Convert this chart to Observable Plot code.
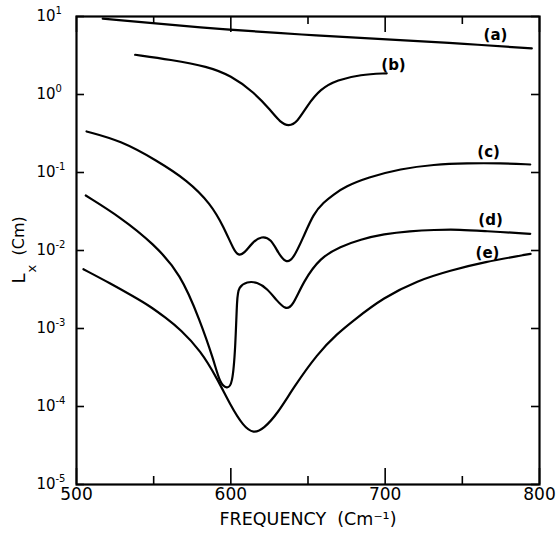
<!DOCTYPE html>
<html><head><meta charset="utf-8">
<script src="https://cdn.jsdelivr.net/npm/d3@7"></script>
<script src="https://cdn.jsdelivr.net/npm/@observablehq/plot@0.6"></script>
<style>
body{margin:0;background:#fff}
g[aria-label="xticklabels"] text{letter-spacing:1.5px}
</style>
</head><body><div id="chart"></div>
<script>
// Series (a)-(e): frequency (cm^-1) and L_x (cm)
const aFreq = [517, 580, 645, 716, 749, 795];
const aL    = [9.4, 7.2, 5.85, 4.9, 4.5, 3.9];
const bFreq = [538, 561, 585, 600, 615, 626, 632, 637.5, 643, 649.5, 658, 669, 684, 701];
const bL    = [3.23, 2.79, 2.29, 1.75, 1.07, 0.62, 0.44, 0.39, 0.44, 0.72, 1.18, 1.54, 1.80, 1.87];
const cFreq = [506.5, 528.5, 552, 572, 587, 595.5, 602, 605, 608.5, 614, 620, 626, 631, 635.5, 640, 647, 653.6, 660, 666.5, 674.3, 688.6, 710, 731.5, 753, 775, 794];
const cL    = [0.336, 0.257, 0.1425, 0.0789, 0.0397, 0.0199, 0.0100, 0.00863, 0.00907, 0.01277, 0.01535, 0.01413, 0.00907, 0.00702, 0.00745, 0.01483, 0.0298, 0.0412, 0.0522, 0.0662, 0.0863, 0.1115, 0.1267, 0.1316, 0.1316, 0.1267];
const dFreq = [506, 528.5, 550, 567.5, 580, 589, 593, 597.5, 601, 603, 604, 605, 610.5, 617, 623.5, 630, 635.5, 640, 647, 658, 671, 684, 699, 716.4, 731.3, 748.8, 763.7, 794];
const dL    = [0.0507, 0.0267, 0.0122, 0.00502, 0.00127, 0.000389, 0.000195, 0.000169, 0.000186, 0.000575, 0.00252, 0.00338, 0.00401, 0.00393, 0.00326, 0.00225, 0.00175, 0.00191, 0.00401, 0.00813, 0.01125, 0.01384, 0.01629, 0.01778, 0.0184, 0.01858, 0.01778, 0.01637];
const eFreq = [504.5, 522, 537, 548, 557.6, 567.4, 580.3, 591.2, 599.8, 608.2, 614.7, 621.2, 630.3, 640.6, 656.2, 669.1, 679.5, 698.9, 721, 742.3, 763.7, 794.2];
const eL    = [0.00575, 0.00378, 0.00257, 0.00191, 0.00138, 0.000971, 0.000522, 0.000228, 0.000103, 0.0000555, 0.0000451, 0.0000515, 0.0000813, 0.000175, 0.000478, 0.000863, 0.00127, 0.00249, 0.00412, 0.00554, 0.00708, 0.00907];

// Curve labels
const labelText = ["(a)", "(b)", "(c)", "(d)", "(e)"];
const labelFreq = [771.5, 705.4, 767, 768.3, 766.3];
const labelL    = [5.7, 2.36, 0.18, 0.0243, 0.00917];
const labelAnchor = ["middle", "start", "middle", "middle", "middle"];

// Ticks
const xMajor = [500, 600, 700, 800];
const xMinor = [550, 650, 750];
const yExps  = [1, 0, -1, -2, -3, -4, -5];
const xTitle = "FREQUENCY  (Cm\u207B\u00B9)";

const series = [["a", aFreq, aL], ["b", bFreq, bL], ["c", cFreq, cL], ["d", dFreq, dL], ["e", eFreq, eL]];
const rows = series.flatMap(([s, xs, ys]) => xs.map((x, i) => ({series: s, x, y: ys[i]})));
const labels = labelText.map((t, i) => ({t, x: labelFreq[i], y: labelL[i], a: labelAnchor[i]}));

const W = 559, H = 536, ML = 76, MR = 20, MT = 16, MB = 52;
const PW = W - ML - MR, PH = H - MT - MB;

const chart = Plot.plot({
  width: W, height: H,
  marginLeft: ML, marginRight: MR, marginTop: MT, marginBottom: MB,
  x: {domain: [500, 800], axis: null},
  y: {type: "log", domain: [1e-5, 10], axis: null},
  style: {fontFamily: "DejaVu Sans", color: "black", background: "white", overflow: "visible"},
  marks: [
    Plot.frame({stroke: "black", strokeWidth: 2.2}),
    Plot.tickX(xMajor, {x: d => d, insetTop: PH - 16, strokeWidth: 1.6}),
    Plot.tickX(xMinor, {x: d => d, insetTop: PH - 8, strokeWidth: 1.6}),
    Plot.tickX(xMajor, {x: d => d, insetBottom: PH - 16, strokeWidth: 1.6}),
    Plot.tickX(xMinor, {x: d => d, insetBottom: PH - 8, strokeWidth: 1.6}),
    Plot.tickY(yExps, {y: d => 10 ** d, insetRight: PW - 8, strokeWidth: 1.6}),
    Plot.tickY(yExps, {y: d => 10 ** d, insetLeft: PW - 8, strokeWidth: 1.6}),
    Plot.line(rows, {x: "x", y: "y", z: "series", stroke: "black", strokeWidth: 2.2, curve: "basis"}),
    Plot.text(labels, {x: "x", y: "y", text: "t", textAnchor: d => d.a, fontSize: 15, fontWeight: "bold"}),
    // y tick labels 10^n
    Plot.text(yExps, {frameAnchor: "left", y: d => 10 ** d, text: () => "10", textAnchor: "end", dx: -21, fontSize: 15}),
    Plot.text(yExps, {frameAnchor: "left", y: d => 10 ** d, text: d => String(d), textAnchor: "start", dx: -21, dy: -6, fontSize: 10}),
    // x tick labels
    Plot.text(xMajor, {x: d => d, frameAnchor: "bottom", text: d => String(d), dy: 15, fontSize: 17, ariaLabel: "xticklabels"}),
    // x title
    Plot.text([xTitle], {frameAnchor: "bottom", text: d => d, dy: 40, fontSize: 17.5, ariaLabel: "xticklabels"}),
    // y title: L_x (Cm), rotated
    Plot.text(["L"], {frameAnchor: "left", text: d => d, rotate: -90, textAnchor: "start", dx: -57, dy: 33, fontSize: 18}),
    Plot.text(["x"], {frameAnchor: "left", text: d => d, rotate: -90, textAnchor: "start", dx: -45, dy: 22, fontSize: 13}),
    Plot.text(["(Cm)"], {frameAnchor: "left", text: d => d, rotate: -90, textAnchor: "start", dx: -58, dy: 5, fontSize: 16})
  ]
});
document.getElementById("chart").appendChild(chart);
</script>
</body></html>
